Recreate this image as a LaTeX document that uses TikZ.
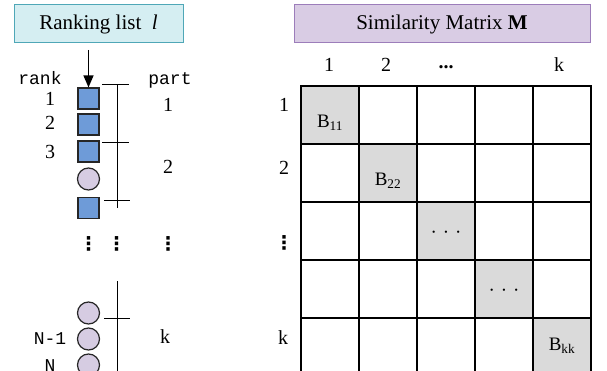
\documentclass[tikz,border=0pt]{standalone}
\usepackage{fontspec}
\setmainfont{Liberation Serif}
\newfontfamily\monof{Liberation Mono}
\newfontfamily\dejf{DejaVu Sans}
\usetikzlibrary{arrows.meta}
\definecolor{cyanfill}{HTML}{D5EEF2}
\definecolor{cyanline}{HTML}{4FA7B7}
\definecolor{purpfill}{HTML}{D9CCE4}
\definecolor{purpline}{HTML}{9C7DBA}
\definecolor{sqfill}{HTML}{6E9BD8}
\definecolor{cifill}{HTML}{D6CCE2}
\definecolor{cellgray}{HTML}{DADADA}
\tikzset{
  titlebox/.style={draw=#1, line width=1pt, minimum height=38pt, inner sep=0pt, font=\fontsize{21}{23}\selectfont},
  sq/.style={draw=black!85, line width=1.2pt, fill=sqfill, minimum size=21pt, inner sep=0pt},
  ci/.style={draw=black!85, line width=1.2pt, fill=cifill, circle, minimum size=22pt, inner sep=0pt},
  lab/.style={font=\fontsize{20}{22}\selectfont, inner sep=0pt},
  blab/.style={font=\fontsize{19}{21}\selectfont, inner sep=0pt},
  mlab/.style={font=\monof\fontsize{18}{20}\selectfont, inner sep=0pt},
  vdot/.style={font=\dejf\bfseries\fontsize{19}{21}\selectfont, inner sep=0pt},
  bar/.style={line width=1pt},
  cell/.style={draw=black, line width=1.2pt, minimum size=58pt, inner sep=0pt},
  dia/.style={cell, fill=cellgray},
}
\begin{document}
\begin{tikzpicture}[x=1pt,y=-1pt]
\useasboundingbox (0,0) rectangle (607,371);
\clip (0,0) rectangle (607,371);
% left title
\node[titlebox=cyanline, fill=cyanfill, minimum width=169pt] (lt) at (98.5,24) {Ranking list \ \textit{l}};
% right title
\node[titlebox=purpline, fill=purpfill, minimum width=296pt] (rt) at (442,24) {Similarity Matrix \textbf{M}};
% ranking list items
\node[sq] (s1) at (88.5,98.5) {};
\node[sq] (s2) at (88.5,124.5) {};
\node[sq] (s3) at (88.5,151.5) {};
\node[ci] (c1) at (88.5,179) {};
\node[sq] (s4) at (88.5,208) {};
\node[ci] (c2) at (88.5,313) {};
\node[ci] (c3) at (88.5,339) {};
\node[ci] (c4) at (88.5,365) {};
\coordinate (ar) at (88.5,50);
\draw[line width=1.3pt, -{Triangle[length=12pt,width=10pt]}] (ar) -- (s1.north);
% labels
\node[mlab] (rk) at (40,78) {rank};
\node[lab] (r1) at (50,99) {1};
\node[lab] (r2) at (50,123) {2};
\node[lab] (r3) at (50,152) {3};
\node[mlab] (rn1) at (50,339) {N-1};
\node[mlab] (rn) at (50,366) {N};
\node[mlab] (pt) at (170,80) {part};
\node[lab] (p1) at (168,105) {1};
\node[lab] (p2) at (168,167) {2};
\node[lab] (pk) at (165,337) {k};
\node[vdot] (pd) at (168,244) {⋮};
\node[vdot] (ld1) at (88.5,244) {⋮};
\node[vdot] (ld2) at (116.5,244) {⋮};
% part bars
\coordinate (v1t) at (117,85);
\coordinate (v1b) at (117,208);
\draw[bar] (v1t) -- (v1b);
\coordinate (t1a) at (102,85); \coordinate (t1b) at (129,85);
\draw[bar] (t1a) -- (t1b);
\coordinate (t2a) at (102,143); \coordinate (t2b) at (129,143);
\draw[bar] (t2a) -- (t2b);
\coordinate (t3a) at (104,201); \coordinate (t3b) at (130,201);
\draw[bar] (t3a) -- (t3b);
\coordinate (v2t) at (117,281);
\coordinate (v2b) at (117,375);
\draw[bar] (v2t) -- (v2b);
\coordinate (t4a) at (104,318); \coordinate (t4b) at (130,318);
\draw[bar] (t4a) -- (t4b);
% matrix
\foreach \i in {0,...,4}{
  \foreach \j in {0,...,4}{
    \ifnum\i=\j
      \node[dia] (m\i\j) at (330+58*\j,115+58*\i) {};
    \else
      \node[cell] (m\i\j) at (330+58*\j,115+58*\i) {};
    \fi
  }
}
\node[blab, yshift=-8pt] (b11) at (m00) {B\textsubscript{11}};
\node[blab, yshift=-8pt] (b22) at (m11) {B\textsubscript{22}};
\node[blab, yshift=-4pt] (b33) at (m22) {·\hspace{6pt}·\hspace{6pt}·};
\node[blab, yshift=-4pt] (b44) at (m33) {·\hspace{6pt}·\hspace{6pt}·};
\node[blab, yshift=1pt] (b55) at (m44) {B\textsubscript{kk}};
% column labels
\node[lab] (cl1) at (329,65) {1};
\node[lab] (cl2) at (386,65) {2};
\node[lab] (cl3) at (446,67) {\textbf{...}};
\node[lab] (cl5) at (559,65) {k};
% row labels
\node[lab] (rl1) at (284,105) {1};
\node[lab] (rl2) at (284,168) {2};
\node[vdot] (rl3) at (284,243) {⋮};
\node[lab] (rl5) at (283,338) {k};
\end{tikzpicture}
\end{document}
